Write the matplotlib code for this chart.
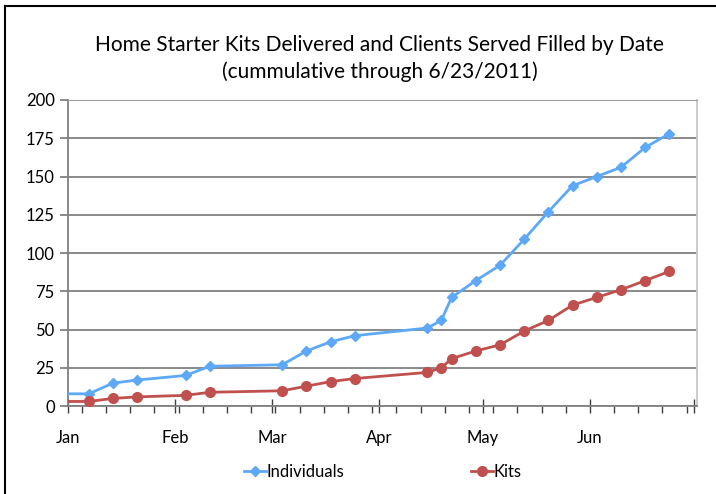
import matplotlib.pyplot as plt
import matplotlib.dates as mdates
import pandas as pd
from matplotlib.lines import Line2D

plt.rcParams['font.family'] = ['Lato', 'DejaVu Sans']

# Data (cumulative counts)
dates = pd.to_datetime([
    "2010-12-25", "2011-01-07", "2011-01-14", "2011-01-21", "2011-02-04",
    "2011-02-11", "2011-03-04", "2011-03-11", "2011-03-18", "2011-03-25",
    "2011-04-15", "2011-04-19", "2011-04-22", "2011-04-29", "2011-05-06",
    "2011-05-13", "2011-05-20", "2011-05-27", "2011-06-03", "2011-06-10",
    "2011-06-17", "2011-06-24",
])
individuals = [8, 8, 15, 17, 20, 26, 27, 36, 42, 46, 51, 56, 71, 82, 92,
               109, 127, 144, 150, 156, 169, 178]
kits = [3, 3, 5, 6, 7, 9, 10, 13, 16, 18, 22, 25, 31, 36, 40, 49, 56, 66,
        71, 76, 82, 88]
yticks = [0, 25, 50, 75, 100, 125, 150, 175, 200]

blue = "#5ea9f7"
red = "#c0504d"

fig = plt.figure(figsize=(7.16, 4.94), dpi=100)
ax = fig.add_axes([0.095, 0.178, 0.8785, 0.6196])

# first point sits before Jan 1 and is clipped, so skip its marker
ax.plot(dates, individuals, color=blue, lw=2, marker="D", ms=5,
        markevery=list(range(1, len(dates))), zorder=3)
ax.plot(dates, kits, color=red, lw=2, marker="o", ms=7,
        markevery=list(range(1, len(dates))), zorder=3)

ax.set_xlim(pd.Timestamp("2011-01-01"), pd.Timestamp("2011-07-02"))
ax.set_ylim(0, 200)
ax.set_yticks(yticks)
ax.yaxis.grid(True, color="#808080", lw=1.3)
ax.set_axisbelow(True)

ax.xaxis.set_major_locator(mdates.MonthLocator())
ax.xaxis.set_major_formatter(mdates.DateFormatter("%b"))
ax.xaxis.set_minor_locator(mdates.RRuleLocator(
    mdates.rrulewrapper(mdates.DAILY, interval=7, dtstart=pd.Timestamp("2011-01-01"))))
ax.tick_params(axis="x", which="major", direction="inout", length=10,
               width=1, color="#404040", labelsize=12, pad=12)
ax.tick_params(axis="x", which="minor", direction="out", length=5,
               width=1, color="#404040")
ax.tick_params(axis="y", direction="out", length=6, width=1.3,
               color="#808080", labelsize=12)

for s in ["left", "bottom"]:
    ax.spines[s].set_color("#808080")
    ax.spines[s].set_linewidth(1.3)
ax.spines["top"].set_color("#a0a0a0")
ax.spines["right"].set_color("#c8c8c8")
ax.spines["right"].set_linewidth(1.3)

fig.canvas.draw()
for t in ax.get_xticklabels():
    if t.get_text() == "Jul":
        t.set_visible(False)

fig.text(0.53, 0.909, "Home Starter Kits Delivered and Clients Served Filled by Date",
         ha="center", va="center", fontsize=15)
fig.text(0.53, 0.854, "(cummulative through 6/23/2011)",
         ha="center", va="center", fontsize=15)

handles = [Line2D([], [], color=blue, lw=2, marker="D", ms=5),
           Line2D([], [], color=red, lw=2, marker="o", ms=7)]
fig.legend(handles, ["Individuals", "Kits"], loc="center",
           bbox_to_anchor=(0.535, 0.045), ncol=2, frameon=False,
           fontsize=12, handlelength=1.3, handletextpad=0.05,
           columnspacing=7.6)

# chart area border (top and left visible)
fig.add_artist(Line2D([0.007, 1.0], [0.988, 0.988], color="black", lw=1.5,
                      transform=fig.transFigure))
fig.add_artist(Line2D([0.007, 0.007], [0.0, 0.988], color="black", lw=1.5,
                      transform=fig.transFigure))

fig.savefig("out.png", dpi=100)
